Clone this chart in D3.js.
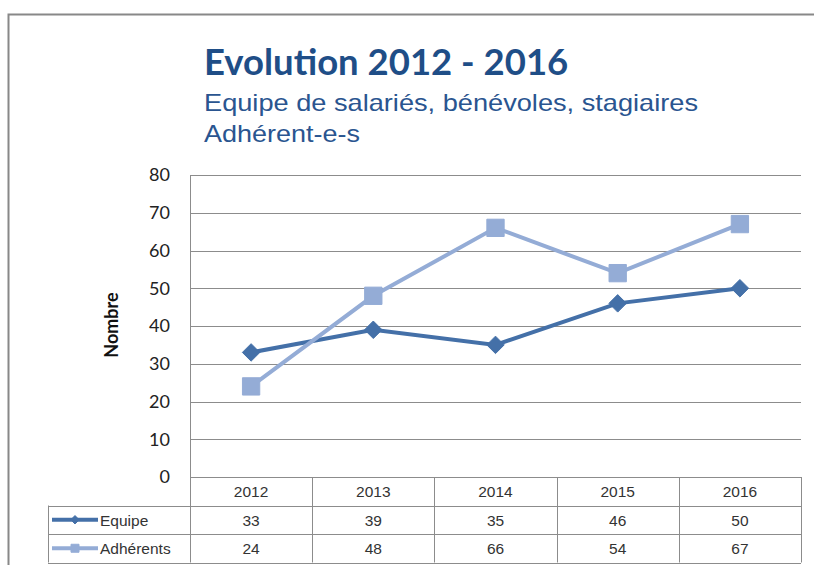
<!DOCTYPE html>
<html>
<head>
<meta charset="utf-8">
<script src="https://cdnjs.cloudflare.com/ajax/libs/d3/7.8.5/d3.min.js"></script>
<style>
  body { margin: 0; background: #fff; }
  svg { display: block; }
</style>
</head>
<body>
<div class="chart-container"></div>
<script>
var w = 814, h = 565;

var years = ["2012", "2013", "2014", "2015", "2016"];
var equipe = [33, 39, 35, 46, 50];
var adherents = [24, 48, 66, 54, 67];
var yTicks = [0, 10, 20, 30, 40, 50, 60, 70, 80];
var seriesNames = ["Equipe", "Adhérents"];

var plotLeft = 190, plotRight = 801, plotTop = 175, plotBottom = 477;
var rowH = 28.5;

var xScale = d3.scaleBand()
    .domain(years)
    .range([plotLeft, plotRight]);

var yScale = d3.scaleLinear()
    .domain([0, 80])
    .range([plotBottom, plotTop]);

var svg = d3.select(".chart-container")
    .append("svg")
    .attr("width", w)
    .attr("height", h);

// outer frame
svg.append("path")
    .attr("d", "M8.5," + h + "V14.5H" + w)
    .attr("fill", "none")
    .attr("stroke", "#888")
    .attr("stroke-width", 2);

// titles
svg.append("text")
    .attr("x", 204).attr("y", 75)
    .attr("font-family", "Lato, 'Open Sans', sans-serif")
    .attr("font-weight", "bold")
    .attr("font-size", 36.5)
    .attr("fill", "#1F4E87")
    .text("Evolution 2012 - 2016");

svg.append("text")
    .attr("x", 204).attr("y", 111)
    .attr("font-family", "'Liberation Sans', Arial, sans-serif")
    .attr("font-size", 24)
    .attr("fill", "#2A5590")
    .attr("textLength", 494)
    .attr("lengthAdjust", "spacingAndGlyphs")
    .text("Equipe de salariés, bénévoles, stagiaires");

svg.append("text")
    .attr("x", 204).attr("y", 142)
    .attr("font-family", "'Liberation Sans', Arial, sans-serif")
    .attr("font-size", 24)
    .attr("fill", "#2A5590")
    .attr("textLength", 156)
    .attr("lengthAdjust", "spacingAndGlyphs")
    .text("Adhérent-e-s");

// gridlines
svg.append("g")
    .selectAll("line")
    .data(yTicks)
    .enter()
    .append("line")
    .attr("x1", plotLeft).attr("x2", plotRight)
    .attr("y1", function(d) { return Math.round(yScale(d)) + 0.5; })
    .attr("y2", function(d) { return Math.round(yScale(d)) + 0.5; })
    .attr("stroke", "#8c8c8c")
    .attr("stroke-width", 1);

// y axis
var yAxis = d3.axisLeft(yScale)
    .tickValues(yTicks)
    .tickSize(0)
    .tickPadding(20);

var yg = svg.append("g")
    .attr("transform", "translate(" + plotLeft + ",0)")
    .call(yAxis);
yg.select(".domain").attr("stroke", "#8c8c8c");
yg.selectAll("text")
    .attr("font-family", "Lato, 'Open Sans', sans-serif")
    .attr("font-size", 18)
    .attr("fill", "#222");

svg.append("text")
    .attr("transform", "translate(118,325) rotate(-90)")
    .attr("text-anchor", "middle")
    .attr("font-family", "Lato, 'Open Sans', sans-serif")
    .attr("font-weight", "bold")
    .attr("font-size", 18)
    .attr("fill", "#111")
    .text("Nombre");

// data table
var tableLeft = 48;
var tbl = svg.append("g");
var gridCol = "#8c8c8c";

tbl.selectAll("line.v")
    .data(years.concat(["end"]))
    .enter()
    .append("line")
    .attr("class", "v")
    .attr("x1", function(d) { return d === "end" ? plotRight + 0.5 : Math.round(xScale(d)) + 0.5; })
    .attr("x2", function(d) { return d === "end" ? plotRight + 0.5 : Math.round(xScale(d)) + 0.5; })
    .attr("y1", plotBottom)
    .attr("y2", plotBottom + rowH * 3)
    .attr("stroke", gridCol);

tbl.append("line")
    .attr("x1", tableLeft + 0.5).attr("x2", tableLeft + 0.5)
    .attr("y1", plotBottom + rowH).attr("y2", plotBottom + rowH * 3)
    .attr("stroke", gridCol);

[1, 2, 3].forEach(function(r) {
    tbl.append("line")
        .attr("x1", tableLeft)
        .attr("x2", plotRight)
        .attr("y1", Math.round(plotBottom + rowH * r) + 0.5)
        .attr("y2", Math.round(plotBottom + rowH * r) + 0.5)
        .attr("stroke", gridCol);
});

var tFont = "'Liberation Sans', Arial, sans-serif";

tbl.selectAll("text.year")
    .data(years)
    .enter()
    .append("text")
    .attr("class", "year")
    .attr("x", function(d) { return xScale(d) + xScale.bandwidth() / 2; })
    .attr("y", plotBottom + rowH / 2 + 6)
    .attr("text-anchor", "middle")
    .attr("font-family", tFont)
    .attr("font-size", 15.5)
    .attr("fill", "#333")
    .text(function(d) { return d; });

var colors = ["#4470A8", "#94ACD6"];
var allSeries = [equipe, adherents];

allSeries.forEach(function(vals, si) {
    var ry = plotBottom + rowH * (si + 1) + rowH / 2 + 6;
    tbl.selectAll("text.val" + si)
        .data(vals)
        .enter()
        .append("text")
        .attr("class", "val" + si)
        .attr("x", function(d, i) { return xScale(years[i]) + xScale.bandwidth() / 2; })
        .attr("y", ry)
        .attr("text-anchor", "middle")
        .attr("font-family", tFont)
        .attr("font-size", 15.5)
        .attr("fill", "#333")
        .text(function(d) { return d; });

    // legend key
    var ly = plotBottom + rowH * (si + 1) + rowH / 2;
    tbl.append("line")
        .attr("x1", 52).attr("x2", 98)
        .attr("y1", ly).attr("y2", ly)
        .attr("stroke", colors[si])
        .attr("stroke-width", 4);
    tbl.append("path")
        .attr("transform", "translate(75," + ly + ")")
        .attr("d", d3.symbol().type(si === 0 ? d3.symbolDiamond2 : d3.symbolSquare).size(si === 0 ? 45 : 64)())
        .attr("fill", colors[si])
        .attr("stroke", colors[si]);
    tbl.append("text")
        .attr("x", 100)
        .attr("y", ry)
        .attr("font-family", tFont)
        .attr("font-size", 15.5)
        .attr("fill", "#333")
        .text(seriesNames[si]);
});

// lines and markers
var line = d3.line()
    .x(function(d, i) { return xScale(years[i]) + xScale.bandwidth() / 2; })
    .y(function(d) { return yScale(d); });

[0, 1].forEach(function(si) {
    var g = svg.append("g");
    g.append("path")
        .datum(allSeries[si])
        .attr("d", line)
        .attr("fill", "none")
        .attr("stroke", colors[si])
        .attr("stroke-width", 4);
    g.selectAll("path.m")
        .data(allSeries[si])
        .enter()
        .append("path")
        .attr("class", "m")
        .attr("transform", function(d, i) {
            return "translate(" + (xScale(years[i]) + xScale.bandwidth() / 2) + "," + yScale(d) + ")";
        })
        .attr("d", d3.symbol().type(si === 0 ? d3.symbolDiamond2 : d3.symbolSquare).size(si === 0 ? 195 : 300)())
        .attr("fill", colors[si])
        .attr("stroke", colors[si])
        .attr("stroke-width", 1);
});
</script>
</body>
</html>
